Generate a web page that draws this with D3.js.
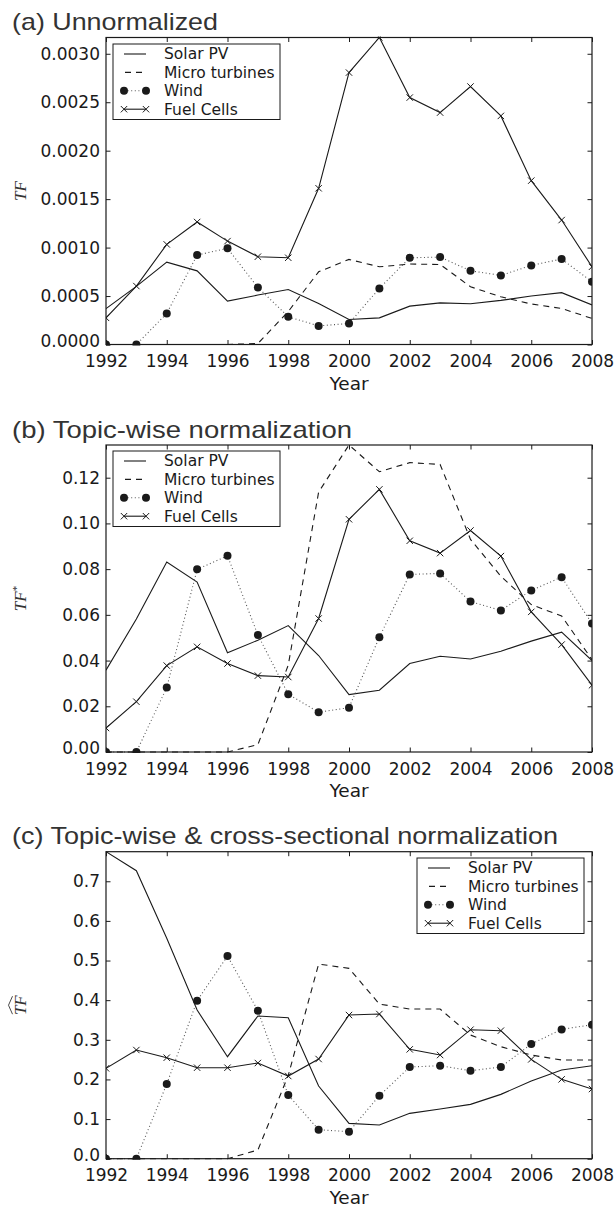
<!DOCTYPE html>
<html>
<head>
<meta charset="utf-8">
<script src="https://cdn.jsdelivr.net/npm/d3@7"></script>
<style>
  body { margin: 0; background: #fff; }
  svg { display: block; }
</style>
</head>
<body>
<svg width="616" height="1207"></svg>
<script>
// years on the x axis
const years = d3.range(1992, 2009);
const xTicks = [1992, 1994, 1996, 1998, 2000, 2002, 2004, 2006, 2008];

// (a) Unnormalized
const solarA = [0.00037, 0.0006, 0.00085, 0.00076, 0.000448, 0.00051, 0.000568, 0.000424, 0.000258, 0.000275, 0.000396, 0.00043, 0.00042, 0.000455, 0.0005, 0.000535, 0.000408];
const microA = [0, 0, 0, 0, 0, 0.00001, 0.00034, 0.00075, 0.000878, 0.000802, 0.00083, 0.000826, 0.000596, 0.000492, 0.000418, 0.000372, 0.000269];
const windA = [0, 0, 0.00032, 0.000923, 0.000992, 0.000589, 0.000286, 0.000192, 0.000217, 0.000579, 0.000895, 0.000902, 0.000761, 0.000713, 0.000816, 0.000882, 0.000647];
const fuelA = [0.000275, 0.000603, 0.001033, 0.001264, 0.001067, 0.000906, 0.000895, 0.001612, 0.002806, 0.003168, 0.002548, 0.002393, 0.002662, 0.002359, 0.001691, 0.001284, 0.000802];
const yTicksA = [0, 0.0005, 0.001, 0.0015, 0.002, 0.0025, 0.003];

// (b) Topic-wise normalization
const solarB = [0.0358, 0.0582, 0.0831, 0.0743, 0.0434, 0.0489, 0.0553, 0.0422, 0.0251, 0.027, 0.0387, 0.0419, 0.0407, 0.0441, 0.0485, 0.0524, 0.04];
const microB = [0, 0, 0, 0, 0, 0.0032, 0.038, 0.1137, 0.1343, 0.1226, 0.1266, 0.1258, 0.093, 0.0769, 0.0645, 0.0595, 0.0404];
const windB = [0, 0, 0.0282, 0.0799, 0.0858, 0.0512, 0.0253, 0.0174, 0.0194, 0.0502, 0.0777, 0.0781, 0.0658, 0.0619, 0.0707, 0.0765, 0.0562];
const fuelB = [0.0105, 0.022, 0.0378, 0.046, 0.0387, 0.0334, 0.0328, 0.0584, 0.1018, 0.1149, 0.0924, 0.087, 0.0969, 0.0857, 0.0613, 0.047, 0.0292];
const yTicksB = [0, 0.02, 0.04, 0.06, 0.08, 0.10, 0.12];

// (c) Topic-wise & cross-sectional normalization
const solarC = [0.7746, 0.7267, 0.556, 0.375, 0.2574, 0.36, 0.3558, 0.1833, 0.0892, 0.085, 0.1144, 0.1253, 0.1371, 0.1623, 0.196, 0.2237, 0.2347];
const microC = [0, 0, 0, 0, 0, 0.0219, 0.21, 0.4912, 0.4802, 0.3902, 0.3776, 0.3776, 0.312, 0.2826, 0.2616, 0.249, 0.249];
const windC = [0, 0, 0.1884, 0.3987, 0.5114, 0.3734, 0.1606, 0.0732, 0.0681, 0.159, 0.2313, 0.2347, 0.222, 0.2313, 0.2893, 0.3263, 0.3381];
const fuelC = [0.228, 0.2742, 0.2548, 0.2296, 0.2296, 0.2414, 0.2086, 0.2515, 0.3625, 0.365, 0.2759, 0.2616, 0.3255, 0.323, 0.2506, 0.2002, 0.1758];
const yTicksC = [0, 0.1, 0.2, 0.3, 0.4, 0.5, 0.6, 0.7];

const seriesNames = ["Solar PV", "Micro turbines", "Wind", "Fuel Cells"];

const svg = d3.select("svg");
const ink = "#1a1a1a";
const tickFont = "'DejaVu Sans', sans-serif";

// plot area, shared by all panels
const left = 106, right = 592, plotH = 307;

const x = d3.scaleLinear().domain([1992, 2008]).range([left, right]);

function drawPanel(p) {
  const top = p.top, bottom = top + plotH;
  const all = p.solar.concat(p.micro, p.wind, p.fuel);
  const y = d3.scaleLinear().domain([0, d3.max(all)]).range([bottom, top]);
  const g = svg.append("g");

  // title (the original is a bit stretched sideways)
  g.append("text")
    .attr("x", 12).attr("y", top - 7.5)
    .attr("font-family", "'Liberation Sans', Arial, sans-serif")
    .attr("font-size", 24).attr("fill", "#333")
    .attr("textLength", p.titleW).attr("lengthAdjust", "spacingAndGlyphs")
    .text(p.title);

  // clip to the axes box
  const clipId = "clip" + p.key;
  svg.append("clipPath").attr("id", clipId)
    .append("rect").attr("x", left).attr("y", top - 1)
    .attr("width", right - left).attr("height", plotH + 2);

  const line = d3.line().x((d, i) => x(years[i])).y(d => y(d));
  const plot = g.append("g").attr("clip-path", `url(#${clipId})`);

  // Solar PV
  plot.append("path").datum(p.solar)
    .attr("d", line).attr("fill", "none")
    .attr("stroke", ink).attr("stroke-width", 1.1);

  // Micro turbines
  plot.append("path").datum(p.micro)
    .attr("d", line).attr("fill", "none")
    .attr("stroke", ink).attr("stroke-width", 1.1)
    .attr("stroke-dasharray", "6,5");

  // Wind
  plot.append("path").datum(p.wind)
    .attr("d", line).attr("fill", "none")
    .attr("stroke", "#555").attr("stroke-width", 1.1)
    .attr("stroke-dasharray", "1,2.6");
  plot.selectAll(".wind").data(p.wind).enter()
    .append("circle")
    .attr("cx", (d, i) => x(years[i])).attr("cy", d => y(d))
    .attr("r", 4).attr("fill", ink);

  // Fuel Cells
  plot.append("path").datum(p.fuel)
    .attr("d", line).attr("fill", "none")
    .attr("stroke", ink).attr("stroke-width", 1.1);
  plot.selectAll(".fuel").data(p.fuel).enter()
    .append("path")
    .attr("d", (d, i) => crossPath(x(years[i]), y(d)))
    .attr("stroke", ink).attr("stroke-width", 1).attr("fill", "none");

  // axes box
  g.append("rect")
    .attr("x", left).attr("y", top)
    .attr("width", right - left).attr("height", plotH)
    .attr("fill", "none").attr("stroke", ink).attr("stroke-width", 1.2);

  // x axis, ticks inside, on bottom and top
  const xAxis = g.append("g").attr("transform", `translate(0,${bottom})`)
    .call(d3.axisBottom(x).tickValues(xTicks).tickFormat(d3.format("d"))
      .tickSizeInner(-4.5).tickSizeOuter(0).tickPadding(10.5));
  const xTop = g.append("g").attr("transform", `translate(0,${top})`)
    .call(d3.axisTop(x).tickValues(xTicks).tickFormat("")
      .tickSizeInner(-4.5).tickSizeOuter(0));

  // y axis, ticks inside, on left and right
  const yAxis = g.append("g").attr("transform", `translate(${left},0)`)
    .call(d3.axisLeft(y).tickValues(p.yTicks).tickFormat(d3.format(p.fmt))
      .tickSizeInner(-4.5).tickSizeOuter(0).tickPadding(6));
  const yRight = g.append("g").attr("transform", `translate(${right},0)`)
    .call(d3.axisRight(y).tickValues(p.yTicks).tickFormat("")
      .tickSizeInner(-4.5).tickSizeOuter(0));

  [xAxis, xTop, yAxis, yRight].forEach(a => {
    a.select(".domain").remove();
    a.selectAll("line").attr("stroke", ink);
    a.selectAll("text")
      .attr("font-family", tickFont).attr("font-size", 17).attr("fill", ink);
  });
  // the lowest y label sits a touch higher so it clears the first year
  yAxis.selectAll(".tick text").filter(d => d === 0).attr("dy", "0.1em");

  // axis label
  g.append("text")
    .attr("x", (left + right) / 2).attr("y", bottom + 45)
    .attr("text-anchor", "middle")
    .attr("font-family", tickFont).attr("font-size", 18.5).attr("fill", ink)
    .text("Year");

  const yl = g.append("g")
    .attr("transform", `translate(26,${(top + bottom) / 2}) rotate(-90)`);
  const ylText = yl.append("text")
    .attr("text-anchor", "middle")
    .attr("font-family", "'Liberation Serif', 'DejaVu Serif', serif")
    .attr("font-style", "italic").attr("font-size", 17).attr("fill", "#333");
  ylText.append("tspan").text("TF");
  if (p.star) {
    ylText.append("tspan").attr("dy", -6).attr("font-size", 11).attr("font-style", "normal").text("*");
  }
  if (p.hat) {
    yl.append("path")
      .attr("d", "M-9,-13.5L0,-17.5L9,-13.5")
      .attr("fill", "none").attr("stroke", "#333").attr("stroke-width", 0.9);
  }

  // legend
  const lg = g.append("g").attr("transform", `translate(${p.legX},${p.legY})`);
  lg.append("rect")
    .attr("width", 167).attr("height", 75.5)
    .attr("fill", "#fff").attr("stroke", ink).attr("stroke-width", 1);
  seriesNames.forEach((name, i) => {
    const cy = 10 + i * 18.4;
    const x0 = 11, x1 = 33;
    if (i === 0 || i === 3) {
      lg.append("line").attr("x1", x0).attr("x2", x1).attr("y1", cy).attr("y2", cy)
        .attr("stroke", ink).attr("stroke-width", 1.1);
    }
    if (i === 1) {
      lg.append("line").attr("x1", x0).attr("x2", x1).attr("y1", cy).attr("y2", cy)
        .attr("stroke", ink).attr("stroke-width", 1.1).attr("stroke-dasharray", "6,5")
        .attr("stroke-dashoffset", -1);
    }
    if (i === 2) {
      lg.append("line").attr("x1", x0).attr("x2", x1).attr("y1", cy).attr("y2", cy)
        .attr("stroke", "#555").attr("stroke-width", 1.1).attr("stroke-dasharray", "1,2.6");
      [x0, x1].forEach(cx => lg.append("circle").attr("cx", cx).attr("cy", cy).attr("r", 4).attr("fill", ink));
    }
    if (i === 3) {
      [x0, x1].forEach(cx => lg.append("path").attr("d", crossPath(cx, cy))
        .attr("stroke", ink).attr("stroke-width", 1).attr("fill", "none"));
    }
    lg.append("text")
      .attr("x", 51).attr("y", cy).attr("dy", "0.35em")
      .attr("font-family", tickFont).attr("font-size", 15.5).attr("fill", ink)
      .text(name);
  });
}

function crossPath(cx, cy) {
  const s = 3.2;
  return `M${cx - s},${cy - s}L${cx + s},${cy + s}M${cx - s},${cy + s}L${cx + s},${cy - s}`;
}

drawPanel({ key: "a", title: "(a) Unnormalized", titleW: 206, top: 37.5,
  solar: solarA, micro: microA, wind: windA, fuel: fuelA,
  yTicks: yTicksA, fmt: ".4f", legX: 113, legY: 44 });

drawPanel({ key: "b", title: "(b) Topic-wise normalization", titleW: 340, top: 445,
  solar: solarB, micro: microB, wind: windB, fuel: fuelB,
  yTicks: yTicksB, fmt: ".2f", star: true, legX: 113, legY: 451 });

drawPanel({ key: "c", title: "(c) Topic-wise & cross-sectional normalization", titleW: 546, top: 851.7,
  solar: solarC, micro: microC, wind: windC, fuel: fuelC,
  yTicks: yTicksC, fmt: ".1f", hat: true, legX: 417, legY: 858 });
</script>
</body>
</html>
